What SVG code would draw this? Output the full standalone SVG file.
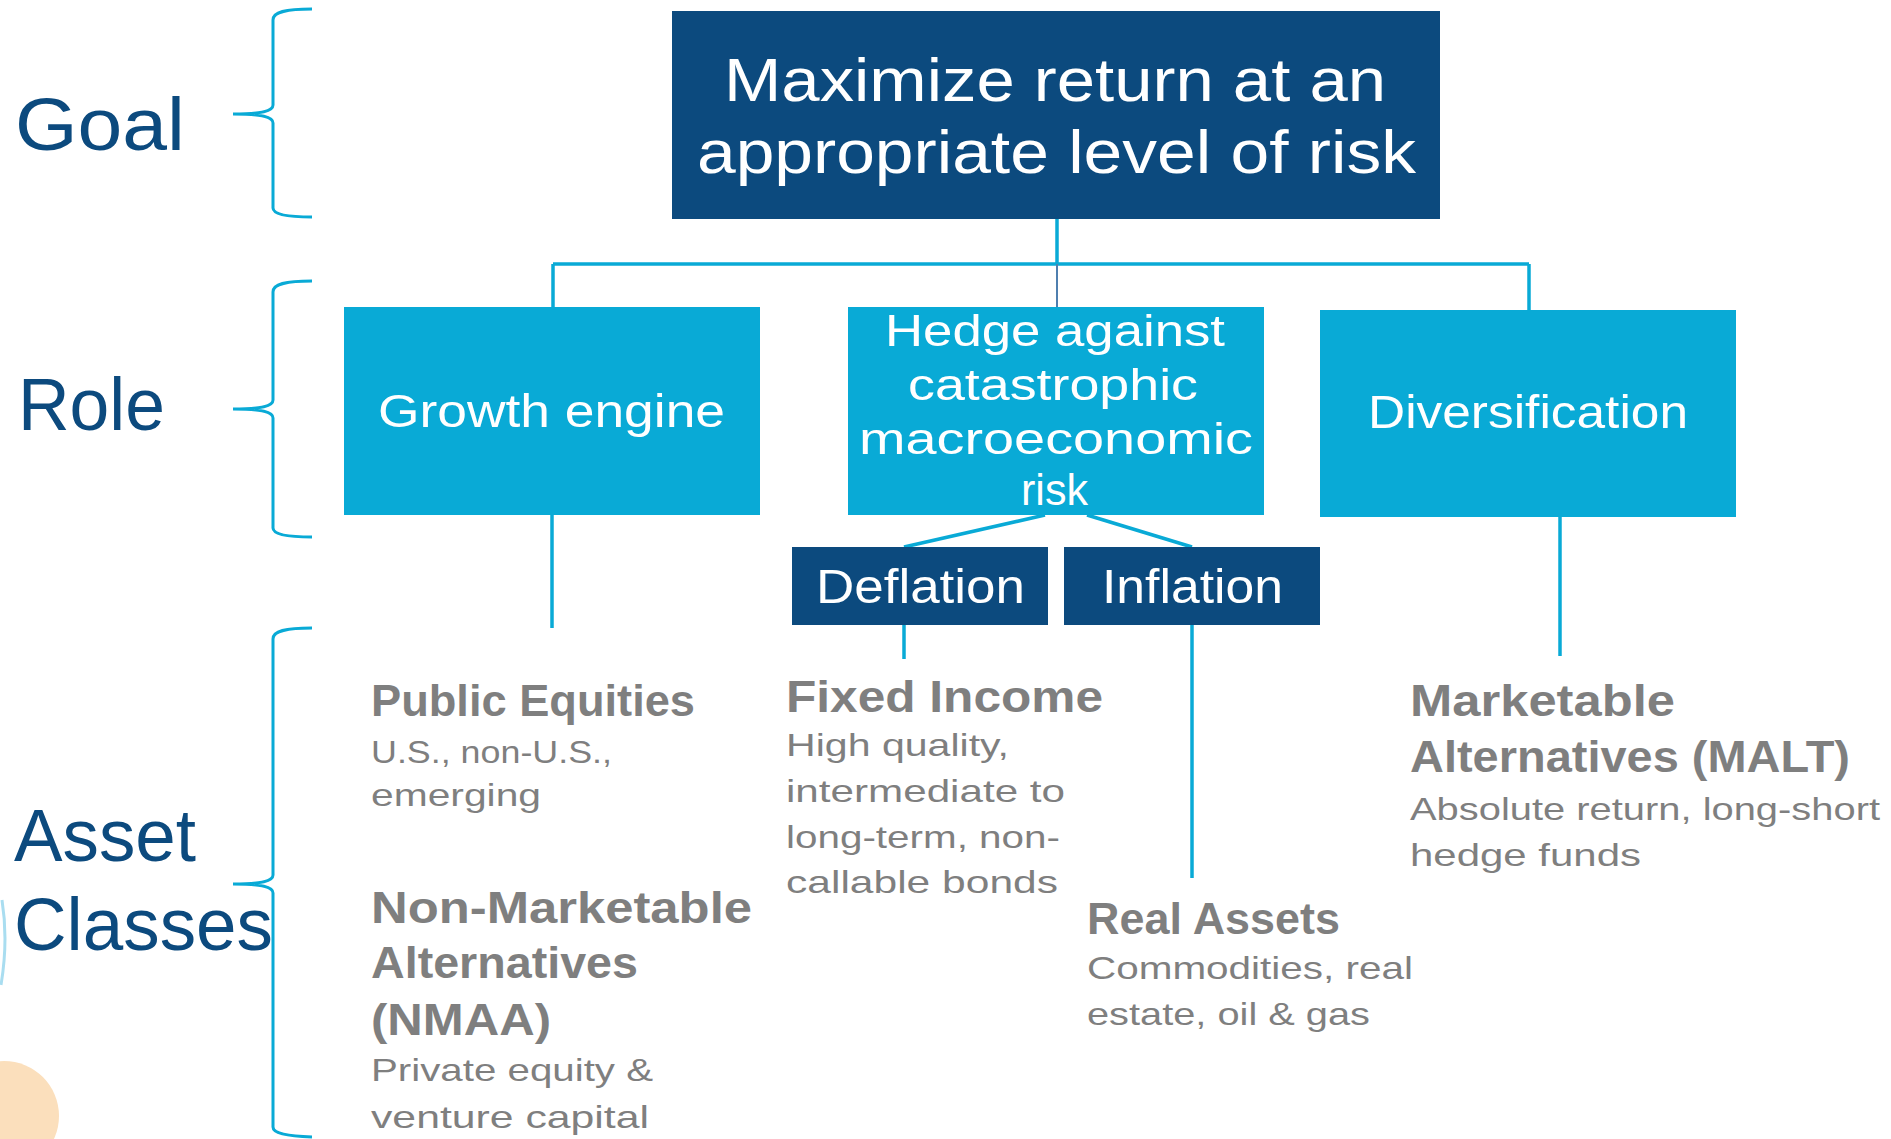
<svg xmlns="http://www.w3.org/2000/svg" width="1891" height="1139" viewBox="0 0 1891 1139">
  <style>
    .navy { fill: #0C4A7E; }
    .cyan { fill: #09AAD6; }
    .tier { font-family: "Liberation Sans", Arial, sans-serif; fill: #0C4A7E; font-size: 75px; }
    .boxt { font-family: "Liberation Sans", Arial, sans-serif; fill: #FFFFFF; text-anchor: start; }
    .head { font-family: "Liberation Sans", Arial, sans-serif; fill: #7F7F7F; font-weight: 700; font-size: 45px; }
    .body { font-family: "Liberation Sans", Arial, sans-serif; fill: #7F7F7F; font-size: 32px; }
    .brace { fill: none; stroke: #09AAD6; stroke-width: 3; }
    .link { fill: none; stroke: #09AAD6; stroke-width: 3.5; }
  </style>

  <!-- background accents at the left edge -->
  <circle cx="4" cy="1116" r="55" fill="#FBDFBC"/>
  <path d="M2,900 C6,925 6,955 1,985" fill="none" stroke="#A9DDF0" stroke-width="3"/>

  <!-- tier labels with braces -->
  <g id="tier-goal">
    <text class="tier" x="15" y="150" textLength="170" lengthAdjust="spacingAndGlyphs">Goal</text>
    <path class="brace" d="M312,9 C285,9 273,12 273,20 L273,105 C273,111 262,114 233,114 C262,114 273,117 273,123 L273,208 C273,214 285,217 312,217"/>
  </g>
  <g id="tier-role">
    <text class="tier" x="18" y="430" textLength="147" lengthAdjust="spacingAndGlyphs">Role</text>
    <path class="brace" d="M312,281 C285,281 273,284 273,292 L273,400 C273,406 262,409 233,409 C262,409 273,412 273,418 L273,528 C273,534 285,537 312,537"/>
  </g>
  <g id="tier-assets">
    <text class="tier" x="14" y="861" textLength="182" lengthAdjust="spacingAndGlyphs">Asset</text>
    <text class="tier" x="14" y="950" textLength="259" lengthAdjust="spacingAndGlyphs">Classes</text>
    <path class="brace" d="M312,628 C285,628 273,631 273,639 L273,875 C273,881 262,884 233,884 C262,884 273,887 273,893 L273,1127 C273,1133 285,1136 312,1137"/>
  </g>

  <!-- connectors -->
  <g id="connectors">
    <line class="link" x1="1057" y1="219" x2="1057" y2="264"/>
    <line class="link" x1="553" y1="264" x2="1529" y2="264"/>
    <line class="link" x1="553" y1="264" x2="553" y2="307"/>
    <line class="link" x1="1529" y1="264" x2="1529" y2="310"/>
    <line x1="1057" y1="264" x2="1057" y2="307" stroke="#4F7FAF" stroke-width="2"/>
    <line class="link" x1="552" y1="515" x2="552" y2="628"/>
    <line class="link" x1="1045" y1="515" x2="904" y2="547" stroke-width="4"/>
    <line class="link" x1="1087" y1="515" x2="1192" y2="547" stroke-width="4"/>
    <line class="link" x1="904" y1="625" x2="904" y2="659"/>
    <line class="link" x1="1192" y1="625" x2="1192" y2="878"/>
    <line class="link" x1="1560" y1="517" x2="1560" y2="656" stroke-width="4"/>
  </g>

  <!-- goal node -->
  <g id="node-goal">
    <rect class="navy" x="672" y="11" width="768" height="208"/>
    <text class="boxt" x="724" y="101" font-size="62" textLength="662" lengthAdjust="spacingAndGlyphs">Maximize return at an</text>
    <text class="boxt" x="697" y="173" font-size="62" textLength="719" lengthAdjust="spacingAndGlyphs">appropriate level of risk</text>
  </g>

  <!-- role nodes -->
  <g id="node-growth">
    <rect class="cyan" x="344" y="307" width="416" height="208"/>
    <text class="boxt" x="378" y="427" font-size="46" textLength="347" lengthAdjust="spacingAndGlyphs">Growth engine</text>
  </g>
  <g id="node-hedge">
    <rect class="cyan" x="848" y="307" width="416" height="208"/>
    <text class="boxt" x="885" y="346" font-size="45" textLength="340" lengthAdjust="spacingAndGlyphs">Hedge against</text>
    <text class="boxt" x="908" y="400" font-size="45" textLength="290" lengthAdjust="spacingAndGlyphs">catastrophic</text>
    <text class="boxt" x="859" y="454" font-size="45" textLength="394" lengthAdjust="spacingAndGlyphs">macroeconomic</text>
    <text class="boxt" x="1021" y="505" font-size="45" textLength="67" lengthAdjust="spacingAndGlyphs">risk</text>
  </g>
  <g id="node-diversification">
    <rect class="cyan" x="1320" y="310" width="416" height="207"/>
    <text class="boxt" x="1368" y="428" font-size="47" textLength="320" lengthAdjust="spacingAndGlyphs">Diversification</text>
  </g>

  <!-- hedge sub-nodes -->
  <g id="node-deflation">
    <rect class="navy" x="792" y="547" width="256" height="78"/>
    <text class="boxt" x="816" y="603" font-size="49" textLength="209" lengthAdjust="spacingAndGlyphs">Deflation</text>
  </g>
  <g id="node-inflation">
    <rect class="navy" x="1064" y="547" width="256" height="78"/>
    <text class="boxt" x="1102" y="603" font-size="49" textLength="181" lengthAdjust="spacingAndGlyphs">Inflation</text>
  </g>

  <!-- asset classes -->
  <g id="asset-public-equities">
    <text class="head" x="371" y="716" textLength="324" lengthAdjust="spacingAndGlyphs">Public Equities</text>
    <text class="body" x="371" y="763" textLength="241" lengthAdjust="spacingAndGlyphs">U.S., non-U.S.,</text>
    <text class="body" x="371" y="806" textLength="170" lengthAdjust="spacingAndGlyphs">emerging</text>
  </g>
  <g id="asset-nmaa">
    <text class="head" x="371" y="923" textLength="381" lengthAdjust="spacingAndGlyphs">Non-Marketable</text>
    <text class="head" x="371" y="978" textLength="267" lengthAdjust="spacingAndGlyphs">Alternatives</text>
    <text class="head" x="371" y="1035" textLength="180" lengthAdjust="spacingAndGlyphs">(NMAA)</text>
    <text class="body" x="371" y="1081" textLength="282" lengthAdjust="spacingAndGlyphs">Private equity &amp;</text>
    <text class="body" x="371" y="1128" textLength="278" lengthAdjust="spacingAndGlyphs">venture capital</text>
  </g>
  <g id="asset-fixed-income">
    <text class="head" x="786" y="712" textLength="317" lengthAdjust="spacingAndGlyphs">Fixed Income</text>
    <text class="body" x="786" y="756" textLength="223" lengthAdjust="spacingAndGlyphs">High quality,</text>
    <text class="body" x="786" y="802" textLength="279" lengthAdjust="spacingAndGlyphs">intermediate to</text>
    <text class="body" x="786" y="848" textLength="274" lengthAdjust="spacingAndGlyphs">long-term, non-</text>
    <text class="body" x="786" y="893" textLength="272" lengthAdjust="spacingAndGlyphs">callable bonds</text>
  </g>
  <g id="asset-real-assets">
    <text class="head" x="1087" y="934" textLength="253" lengthAdjust="spacingAndGlyphs">Real Assets</text>
    <text class="body" x="1087" y="979" textLength="326" lengthAdjust="spacingAndGlyphs">Commodities, real</text>
    <text class="body" x="1087" y="1025" textLength="283" lengthAdjust="spacingAndGlyphs">estate, oil &amp; gas</text>
  </g>
  <g id="asset-malt">
    <text class="head" x="1410" y="716" textLength="265" lengthAdjust="spacingAndGlyphs">Marketable</text>
    <text class="head" x="1410" y="772" textLength="440" lengthAdjust="spacingAndGlyphs">Alternatives (MALT)</text>
    <text class="body" x="1410" y="820" textLength="470" lengthAdjust="spacingAndGlyphs">Absolute return, long-short</text>
    <text class="body" x="1410" y="866" textLength="231" lengthAdjust="spacingAndGlyphs">hedge funds</text>
  </g>
</svg>
